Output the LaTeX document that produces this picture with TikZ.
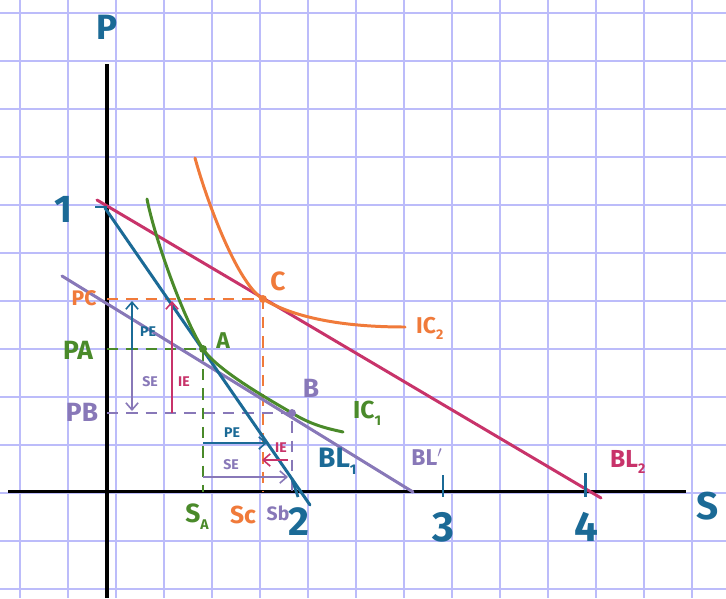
\documentclass[tikz,border=0pt]{standalone}
\usepackage{fontspec}
\setmainfont{Fira Sans}
\usepackage{tikz}
\usetikzlibrary{arrows.meta}

\definecolor{pblue}{HTML}{1B6A96}
\definecolor{pgreen}{HTML}{4A8A2A}
\definecolor{porange}{HTML}{F07A3A}
\definecolor{pcrimson}{HTML}{C8336A}
\definecolor{ppurple}{HTML}{8878B8}
\definecolor{pgrid}{RGB}{188,188,250}
\newcommand{\lowsub}[1]{\raisebox{-0.5ex}{\footnotesize #1}}
\newcommand{\fs}[1]{\fontsize{#1}{#1}\selectfont\bfseries}

\begin{document}
\begin{tikzpicture}[x=0.02cm, y=-0.02cm,
  curve/.style={line width=1.7pt, line cap=round},
  guide/.style={line width=1.4pt, dash pattern=on 6.5pt off 4.5pt},
  effect/.style={line width=0.9pt, -{Straight Barb[length=4pt,width=7pt]}},
  small label/.style={font=\fs{8}},
  dot/.style={circle, fill, inner sep=1.6pt}]
\useasboundingbox (0,0) rectangle (726,598);
\fill[white] (0,0) rectangle (726,598);
\foreach \k in {0,...,14} \draw[pgrid, line width=1pt] ({19.7+48*\k},0) -- ({19.7+48*\k},598);
\foreach \k in {0,...,12} \draw[pgrid, line width=1pt] (0,{13.3+48*\k}) -- (726,{13.3+48*\k});

% axes
\coordinate (O) at (107,491.7);
\draw[line width=1.8pt] (107,598) -- (107,64);
\draw[line width=1.8pt] (8,491.7) -- (686,491.7);
\node[pblue, font=\fs{20}] (p) at (107,27) {P};
\node[pblue, font=\fs{22}, anchor=east] (s) at (725,506) {S};

% optimum points
\coordinate (A) at (203,349);
\coordinate (B) at (292,413);
\coordinate (C) at (263,299);

% dashed guides
\draw[guide, porange] (C -| O) -- (C) -- (C |- O);
\draw[guide, pgreen] (A -| O) -- (A) -- (A |- O);
\draw[guide, ppurple] (B -| O) -- (B) -- (B |- O);

% budget lines
\draw[curve, ppurple] (62,276) -- (413,492);
\draw[curve, pcrimson] (97,200) -- (601,498);
\draw[curve, pblue] (105,208) -- (310,505);

% indifference curves
\draw[curve, pgreen] (147,199) .. controls (155,240) and (185,322) .. (A)
  .. controls (218,371) and (270,400) .. (B)
  .. controls (313,426) and (330,429) .. (343,432);
\draw[curve, porange] (195,158) .. controls (208,205) and (238,284) .. (C)
  .. controls (293,317) and (340,327) .. (405,327);

\node[dot, pgreen] at (A) {};
\node[dot, ppurple] at (B) {};
\node[dot, porange] at (C) {};

% ticks
\draw[pblue, line width=1.6pt] (95,207) -- (107,207);
\draw[pblue, line width=1.6pt] (292,479) -- (298,497);
\draw[pblue, line width=1.6pt] (443,475) -- (443,497);
\draw[pblue, line width=1.6pt] (585.7,473) -- (585.7,497);
\node[pblue, font=\fs{22}] (one) at (63,209) {1};
\node[pblue, font=\fs{23}] (two) at (299,522) {2};
\node[pblue, font=\fs{24}] (three) at (443,527) {3};
\node[pblue, font=\fs{24}] (four) at (586,527) {4};

% price labels
\node[porange, font=\fs{12}] (pc) at (84,298) {PC};
\node[pgreen, font=\fs{15}] (pa) at (78,350) {PA};
\node[ppurple, font=\fs{15}] (pb) at (82,412) {PB};

% quantity labels
\node[pgreen, font=\fs{15}] (sa) at (197,517) {S\lowsub{A}};
\node[porange, font=\fs{14}] (sc) at (243,515) {Sc};
\node[ppurple, font=\fs{11}] (sb) at (278,513) {Sb};

% point labels
\node[pgreen, font=\fs{13}] (la) at (223,341) {A};
\node[ppurple, font=\fs{15}] (lb) at (311,388) {B};
\node[porange, font=\fs{15}] (lc) at (278,281) {C};

% curve labels
\node[porange, font=\fs{13}, anchor=west] (ic2) at (410,328) {IC\lowsub{2}};
\node[pgreen, font=\fs{14}, anchor=west] (ic1) at (347,413) {IC\lowsub{1}};
\node[pblue, font=\fs{16}, anchor=west] (bl1) at (312,461) {BL\lowsub{1}};
\node[ppurple, font=\fs{13}] (blp) at (427,457) {BL$'$};
\node[pcrimson, font=\fs{14}, anchor=west] (bl2) at (604,462) {BL\lowsub{2}};

% price effect split on the P axis
\draw[effect, pblue] (132,350) -- (132,301);
\draw[effect, ppurple] (132,350) -- (132,411);
\draw[effect, pcrimson] (172,413) -- (172,301);
\node[pblue, small label] (pe1) at (148,332) {PE};
\node[ppurple, small label] (se1) at (150,382) {SE};
\node[pcrimson, small label] (ie1) at (184,382) {IE};

% and on the S axis
\draw[effect, pblue] (203,443) -- (267,443);
\draw[effect, ppurple] (203,477) -- (288,477);
\draw[effect, pcrimson] (288,460) -- (262,460);
\node[pblue, small label] (pe2) at (232,433) {PE};
\node[ppurple, small label] (se2) at (231,465) {SE};
\node[pcrimson, small label] (ie2) at (281,448) {IE};
\end{tikzpicture}
\end{document}
